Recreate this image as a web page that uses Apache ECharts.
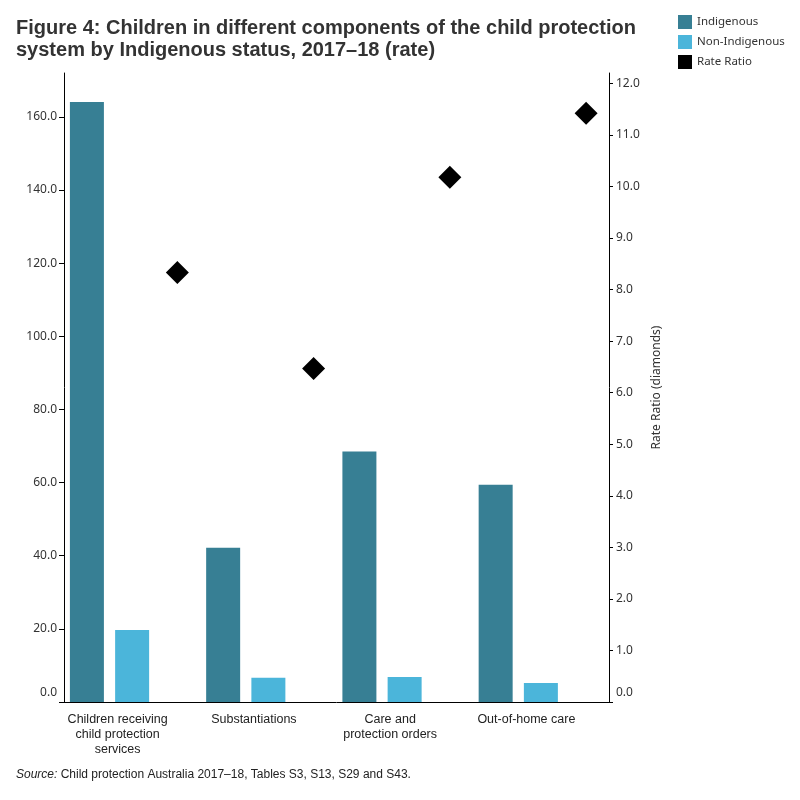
<!DOCTYPE html>
<html>
<head>
<meta charset="utf-8">
<script src="https://cdn.jsdelivr.net/npm/echarts@6/dist/echarts.min.js"></script>
<style>
html,body{margin:0;padding:0;background:#fff;}
#chart{width:800px;height:800px;}
</style>
</head>
<body>
<div id="chart"></div>
<script>
const categories = ['Children receiving\nchild protection\nservices', 'Substantiations', 'Care and\nprotection orders', 'Out-of-home care'];
const indigenous = [164.1, 42.2, 68.5, 59.4];
const nonIndigenous = [19.7, 6.65, 6.85, 5.2];
const rateRatio = [8.33, 6.47, 10.18, 11.42];
const leftTicks = [0, 20, 40, 60, 80, 100, 120, 140, 160];
const rightTicks = [0, 1, 2, 3, 4, 5, 6, 7, 8, 9, 10, 11, 12];

const COL_IND = '#377f94';
const COL_NON = '#4bb5da';
const TXT = '#333333';
const labelFont = 'Noto Sans';

function fmt(v) {
  const s = Number(v).toFixed(1);
  return v === 0 ? '{z|' + s + '}' : s;
}
const zeroRich = { z: { fontFamily: labelFont, fontSize: 12, color: TXT, padding: [0, 0, 18, 0] } };

const chart = echarts.init(document.getElementById('chart'), null, { renderer: 'canvas' });
chart.setOption({
  animation: false,
  backgroundColor: '#ffffff',
  graphic: [
    {
      type: 'text', left: 16, top: 17,
      style: {
        text: 'Figure 4: Children in different components of the child protection\nsystem by Indigenous status, 2017\u201318 (rate)',
        fontFamily: 'Liberation Sans, Arial', fontWeight: 'bold', fontSize: 20, lineHeight: 22, fill: TXT
      }
    },
    {
      type: 'text', left: 16, top: 769,
      style: {
        text: '{i|Source:} {n|Child protection Australia 2017\u201318, Tables S3, S13, S29 and S43.}',
        rich: {
          i: { fontFamily: 'Liberation Sans, Arial', fontStyle: 'italic', fontSize: 12, fill: '#222' },
          n: { fontFamily: 'Liberation Sans, Arial', fontSize: 12, fill: '#222' }
        }
      }
    }
  ],
  legend: {
    orient: 'vertical', left: 673, top: 10,
    itemWidth: 14, itemHeight: 14, itemGap: 6,
    textStyle: { fontFamily: labelFont, fontSize: 11.5, color: TXT },
    data: [
      { name: 'Indigenous', icon: 'rect' },
      { name: 'Non-Indigenous', icon: 'rect' },
      { name: 'Rate Ratio', icon: 'rect' }
    ]
  },
  grid: { left: 64, right: 191, top: 73, bottom: 98, containLabel: false },
  xAxis: {
    type: 'category', data: categories,
    axisLine: { show: true, lineStyle: { color: '#000', width: 1 } },
    axisTick: { show: false },
    axisLabel: {
      interval: 0, margin: 10, fontFamily: 'Liberation Sans, Arial', fontSize: 12.5, lineHeight: 15,
      color: '#222', padding: [0, 29, 0, 0]
    }
  },
  yAxis: [
    {
      type: 'value', min: 0, max: 172, position: 'left',
      splitLine: { show: false },
      axisLine: { show: true, lineStyle: { color: '#000', width: 1 } },
      axisTick: { show: true, length: 5, lineStyle: { color: '#000' }, customValues: leftTicks },
      axisLabel: { margin: 7, fontFamily: labelFont, fontSize: 12, color: TXT, customValues: leftTicks, formatter: fmt, rich: zeroRich }
    },
    {
      type: 'value', min: 0, max: 12.2, position: 'right',
      name: 'Rate Ratio (diamonds)', nameLocation: 'middle', nameGap: 42, nameRotate: 90,
      nameTextStyle: { fontFamily: labelFont, fontSize: 12, color: TXT },
      splitLine: { show: false },
      axisLine: { show: true, lineStyle: { color: '#000', width: 1 } },
      axisTick: { show: true, length: 4, lineStyle: { color: '#000' }, customValues: rightTicks },
      axisLabel: { margin: 7, fontFamily: labelFont, fontSize: 12, color: TXT, customValues: rightTicks, formatter: fmt, rich: zeroRich }
    }
  ],
  series: [
    {
      name: 'Indigenous', type: 'pictorialBar', yAxisIndex: 0, data: indigenous,
      symbol: 'rect', symbolSize: ['100%', '100%'], barWidth: 34, barGap: '33%',
      itemStyle: { color: COL_IND }
    },
    {
      name: 'Non-Indigenous', type: 'pictorialBar', yAxisIndex: 0, data: nonIndigenous,
      symbol: 'rect', symbolSize: ['100%', '100%'], barWidth: 34, barGap: '33%',
      itemStyle: { color: COL_NON }
    },
    {
      name: 'Rate Ratio', type: 'pictorialBar', yAxisIndex: 1, data: rateRatio,
      symbol: 'diamond', symbolSize: [23, 23], symbolPosition: 'end', symbolOffset: [0, '-50%'],
      barWidth: 34, barGap: '33%',
      itemStyle: { color: '#000' }, z: 5
    }
  ]
});
</script>
</body>
</html>
